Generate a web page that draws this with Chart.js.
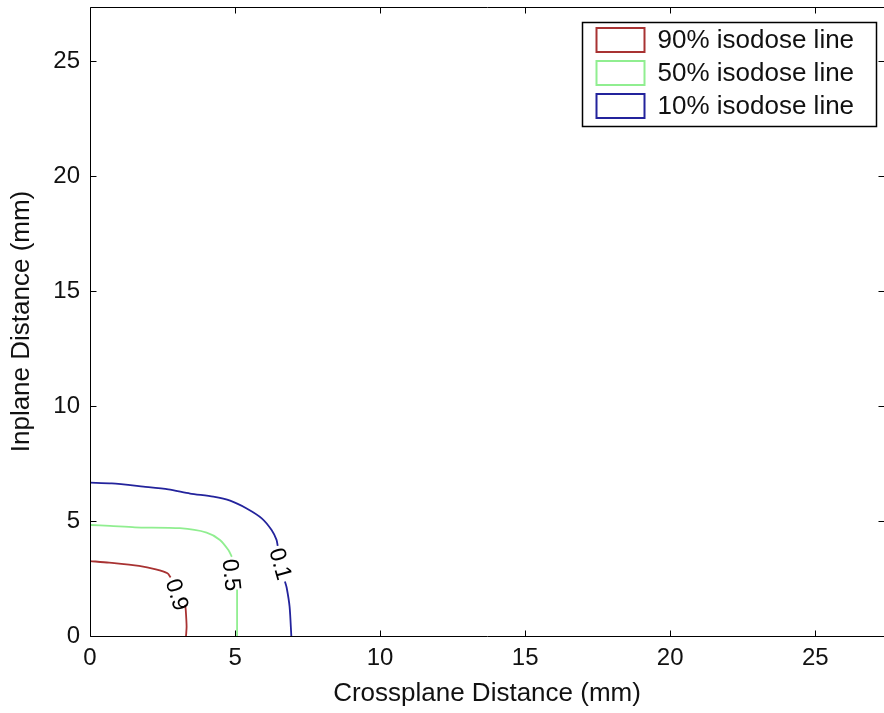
<!DOCTYPE html>
<html>
<head>
<meta charset="utf-8">
<script src="https://cdn.jsdelivr.net/npm/chart.js@4.4.0/dist/chart.umd.min.js"></script>
<style>
  html, body { margin: 0; padding: 0; background: #fff; }
  canvas { display: block; }
</style>
</head>
<body>
<canvas id="chart" width="884" height="713"></canvas>
<script>
const axisMax = 27.37;
const tickValues = [0, 5, 10, 15, 20, 25];

// contour points in mm, null = gap left open for the inline label
const iso90X = [0, 0.66, 1.69, 2.27, 2.67, 2.78, null, 3.28, 3.30, 3.33, 3.31];
const iso90Y = [3.26, 3.19, 3.05, 2.90, 2.73, 2.55, null, 1.35, 1.14, 0.41, 0];

const iso50X = [0, 0.69, 1.55, 3.10, 4.02, 4.48, 4.77, 4.89, null, 5.07, 5.07];
const iso50Y = [4.83, 4.79, 4.73, 4.69, 4.50, 4.18, 3.74, 3.45, null, 2.02, 0];

const iso10X = [0, 0.75, 1.84, 2.70, 3.45, 4.25, 4.83, 5.40, 5.92, 6.26, 6.43, 6.47, null, 6.72, 6.78, 6.88, 6.94];
const iso10Y = [6.67, 6.64, 6.50, 6.38, 6.20, 6.06, 5.89, 5.55, 5.12, 4.61, 4.18, 3.92, null, 2.37, 2.10, 1.28, 0];

const seriesNames = ['90% isodose line', '50% isodose line', '10% isodose line'];
const seriesColors = ['#a83232', '#90ee90', '#23239c'];

// inline contour labels
const labelText = ['0.9', '0.5', '0.1'];
const labelX = [2.97, 4.84, 6.53];
const labelY = [1.78, 2.65, 3.13];
const labelAngle = [72, 84, 74];

const FONT = '"Liberation Sans", Arial, sans-serif';
const INK = '#111';

function toPoints(xs, ys) {
  return xs.map((x, i) => ({ x: x === null ? xs[i - 1] : x, y: ys[i] }));
}

const frameAndTicks = {
  id: 'frameAndTicks',
  afterDraw(chart) {
    const { ctx, chartArea: a, scales: { x, y } } = chart;
    const L = Math.round(a.left) + 0.5, T = Math.round(a.top) + 0.5;
    const B = Math.round(a.bottom) + 0.5, R = Math.round(a.right) + 0.5;
    const len = 6;
    ctx.save();
    ctx.strokeStyle = '#000';
    ctx.lineWidth = 1;
    ctx.beginPath();
    ctx.moveTo(R, T); ctx.lineTo(L, T); ctx.lineTo(L, B); ctx.lineTo(R, B);
    tickValues.forEach(v => {
      const px = Math.round(x.getPixelForValue(v)) + 0.5;
      ctx.moveTo(px, B); ctx.lineTo(px, B - len);
      ctx.moveTo(px, T); ctx.lineTo(px, T + len);
      const py = Math.round(y.getPixelForValue(v)) + 0.5;
      ctx.moveTo(L, py); ctx.lineTo(L + len, py);
      ctx.moveTo(R, py); ctx.lineTo(R - len, py);
    });
    ctx.stroke();
    ctx.restore();
  }
};

const contourLabels = {
  id: 'contourLabels',
  afterDatasetsDraw(chart) {
    const { ctx, scales: { x, y } } = chart;
    ctx.save();
    ctx.font = '23px ' + FONT;
    ctx.fillStyle = '#000';
    ctx.textAlign = 'center';
    ctx.textBaseline = 'middle';
    labelText.forEach((t, i) => {
      ctx.save();
      ctx.translate(x.getPixelForValue(labelX[i]), y.getPixelForValue(labelY[i]));
      ctx.rotate(labelAngle[i] * Math.PI / 180);
      ctx.fillText(t, 0, 0);
      ctx.restore();
    });
    ctx.restore();
  }
};

const boxedLegend = {
  id: 'boxedLegend',
  afterDraw(chart) {
    const { ctx, chartArea: a } = chart;
    ctx.save();
    ctx.font = '26px ' + FONT;
    const sets = chart.data.datasets;
    const textW = Math.max(...sets.map(d => ctx.measureText(d.label).width));
    const rowH = 33;
    const w = Math.round(14 + 48 + 13 + textW + 22);
    const h = 104;
    const left = Math.round(a.right - 8 - w) + 0.5;
    const top = Math.round(a.top + 15) + 0.5;
    ctx.fillStyle = '#fff';
    ctx.fillRect(left, top, w, h);
    ctx.strokeStyle = '#000';
    ctx.lineWidth = 1.5;
    ctx.strokeRect(left, top, w, h);
    ctx.textBaseline = 'middle';
    ctx.textAlign = 'left';
    sets.forEach((d, i) => {
      const cy = top + 17.5 + i * rowH;
      ctx.strokeStyle = d.borderColor;
      ctx.lineWidth = 2;
      ctx.strokeRect(left + 14, cy - 12, 48, 24);
      ctx.fillStyle = INK;
      ctx.fillText(d.label, left + 14 + 48 + 13, cy + 1);
    });
    ctx.restore();
  }
};

const datasets = [
  [iso90X, iso90Y], [iso50X, iso50Y], [iso10X, iso10Y]
].map(([xs, ys], i) => ({
  label: seriesNames[i],
  data: toPoints(xs, ys),
  borderColor: seriesColors[i],
  borderWidth: 1.8,
  pointRadius: 0,
  fill: false,
  tension: 0.25,
  spanGaps: false
}));

new Chart(document.getElementById('chart'), {
  type: 'line',
  data: { datasets },
  options: {
    responsive: false,
    animation: false,
    layout: { padding: { top: 7, left: 0, right: 0, bottom: 0 } },
    plugins: { legend: { display: false }, tooltip: { enabled: false } },
    scales: {
      x: {
        type: 'linear',
        min: 0,
        max: axisMax,
        grid: { display: false, drawTicks: false },
        border: { display: false },
        ticks: { stepSize: 5, includeBounds: false, padding: 8, color: INK, font: { family: FONT, size: 24 } },
        title: { display: true, text: 'Crossplane Distance (mm)', color: INK, font: { family: FONT, size: 26 }, padding: { top: 0, bottom: 4 } },
        afterFit(s) { s.height = 77; s.paddingLeft = 0; s.paddingRight = 0; }
      },
      y: {
        type: 'linear',
        min: 0,
        max: axisMax,
        grid: { display: false, drawTicks: false },
        border: { display: false },
        ticks: { stepSize: 5, includeBounds: false, padding: 10, color: INK, font: { family: FONT, size: 24 } },
        title: { display: true, text: 'Inplane Distance (mm)', color: INK, font: { family: FONT, size: 26 }, padding: { top: 6, bottom: 0 } },
        afterFit(s) { s.width = 90; s.paddingTop = 0; s.paddingBottom = 0; }
      }
    }
  },
  plugins: [frameAndTicks, contourLabels, boxedLegend]
});
</script>
</body>
</html>
